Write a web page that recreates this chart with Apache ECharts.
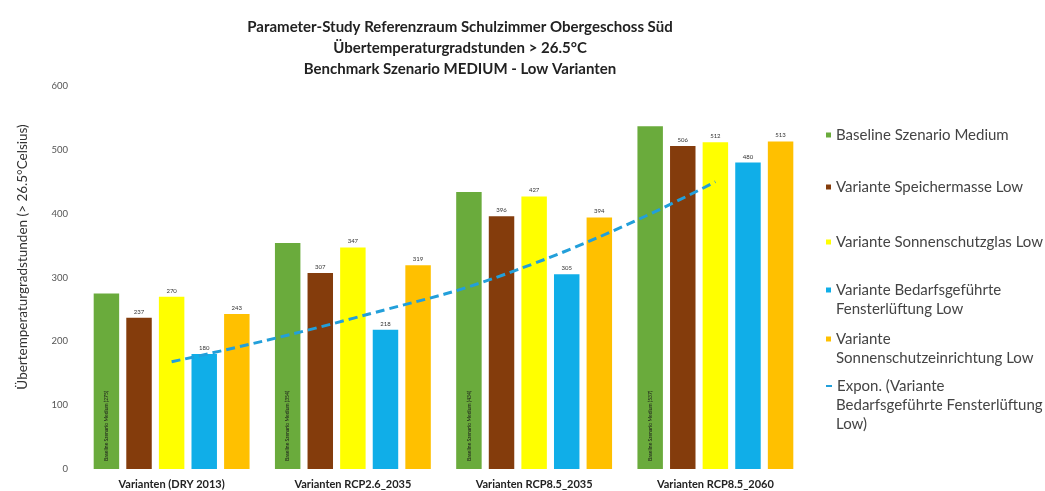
<!DOCTYPE html>
<html><head><meta charset="utf-8">
<script src="https://cdn.jsdelivr.net/npm/echarts@6/dist/echarts.min.js"></script>
<style>html,body{margin:0;padding:0;background:#fff}#c{width:1045px;height:491px}</style>
</head><body><div id="c"></div>
<script>
const categories = ['Varianten (DRY 2013)', 'Varianten RCP2.6_2035', 'Varianten RCP8.5_2035', 'Varianten RCP8.5_2060'];
const seriesNames = ['Baseline Szenario Medium', 'Variante Speichermasse Low', 'Variante Sonnenschutzglas Low', 'Variante Bedarfsgeführte Fensterlüftung Low', 'Variante Sonnenschutzeinrichtung Low', 'Expon. (Variante Bedarfsgeführte Fensterlüftung Low)'];
const baseline = [275, 354, 434, 537];
const speichermasse = [237, 307, 396, 506];
const sonnenschutzglas = [270, 347, 427, 512];
const fensterlueftung = [180, 218, 305, 480];
const sonnenschutzeinrichtung = [243, 319, 394, 513];
const trendExpon = [168, 236, 322, 450];
const yTicks = [0, 100, 200, 300, 400, 500, 600];
const legendLines = [
  ['Baseline Szenario Medium'],
  ['Variante Speichermasse Low'],
  ['Variante Sonnenschutzglas Low'],
  ['Variante Bedarfsgeführte', 'Fensterlüftung Low'],
  ['Variante', 'Sonnenschutzeinrichtung Low'],
  ['Expon. (Variante', 'Bedarfsgeführte Fensterlüftung', 'Low)']
];
const yAxisTitle = 'Übertemperaturgradstunden (> 26.5°Celsius)';

const colors = ['#6aab3c', '#843c0c', '#ffff00', '#10aee8', '#ffc000', '#229fda'];
const FONT = 'Lato';
const chart = echarts.init(document.getElementById('c'));
const valLabel = {show: true, position: 'top', distance: 3, fontSize: 6, color: '#333', fontFamily: FONT};
function bar(i, data, label) {
  return {name: seriesNames[i], type: 'bar', data: data, itemStyle: {color: colors[i]},
    barGap: '28%', barCategoryGap: '14%', label: label};
}
const legendFirstY = [135, 187, 242, 290, 339, 386];
const lineStep = 19;
const legends = seriesNames.map((n, i) => ({
  data: [i === 5 ? {name: n, icon: 'rect', itemStyle: {color: colors[5]}} : {name: n, icon: 'rect'}],
  left: 826, top: legendFirstY[i] - 9, orient: 'vertical', padding: 0,
  itemWidth: i === 5 ? 6 : 5, itemHeight: i === 5 ? 2 : 5, itemGap: 2,
  formatter: () => legendLines[i][0],
  textStyle: {fontSize: 15, color: '#444', fontFamily: FONT, lineHeight: 18}
}));
const graphics = [];
legendLines.forEach((lines, i) => {
  lines.slice(1).forEach((t, j) => {
    graphics.push({type: 'text', left: 836, top: legendFirstY[i] + lineStep * (j + 1) - 9,
      style: {text: t, font: '15px ' + FONT, fill: '#444', lineHeight: 18}});
  });
});
graphics.push({type: 'text', x: 23, y: 257, rotation: Math.PI / 2,
  style: {text: yAxisTitle, font: '13.5px ' + FONT, fill: '#333', align: 'center', verticalAlign: 'middle'}});

chart.setOption({
  animation: false,
  textStyle: {fontFamily: FONT},
  title: {
    text: 'Parameter-Study Referenzraum Schulzimmer Obergeschoss Süd\nÜbertemperaturgradstunden > 26.5°C\nBenchmark Szenario MEDIUM - Low Varianten',
    left: 455, top: 12, textAlign: 'center',
    textStyle: {fontSize: 15, fontWeight: 'bold', color: '#222', fontFamily: FONT, lineHeight: 21}
  },
  legend: legends,
  graphic: graphics,
  grid: {left: 81, right: 239, top: 86, bottom: 22, containLabel: false},
  xAxis: {
    type: 'category', data: categories,
    axisLine: {show: false}, axisTick: {show: false},
    axisLabel: {fontSize: 11, fontWeight: 'bold', color: '#222', margin: 10, fontFamily: FONT}
  },
  yAxis: {
    type: 'value', min: 0, max: 600, interval: 100,
    axisLine: {show: false}, axisTick: {show: false}, splitLine: {show: false},
    axisLabel: {fontSize: 9.5, color: '#555', margin: 13, fontFamily: FONT,
      formatter: v => yTicks.includes(v) ? String(v) : ''}
  },
  series: [
    bar(0, baseline, {show: true, position: 'insideBottom', rotate: 90, align: 'left', verticalAlign: 'middle', distance: 8,
      fontSize: 5, color: '#1a1a1a', fontFamily: FONT, formatter: p => 'Baseline Szenario Medium (' + p.value + ')'}),
    bar(1, speichermasse, valLabel),
    bar(2, sonnenschutzglas, valLabel),
    bar(3, fensterlueftung, valLabel),
    bar(4, sonnenschutzeinrichtung, valLabel),
    {name: seriesNames[5], type: 'line', data: trendExpon, smooth: true, symbol: 'none', z: 5,
      lineStyle: {color: colors[5], width: 3, type: [9, 5]}, itemStyle: {color: colors[5]}}
  ]
});
</script></body></html>
